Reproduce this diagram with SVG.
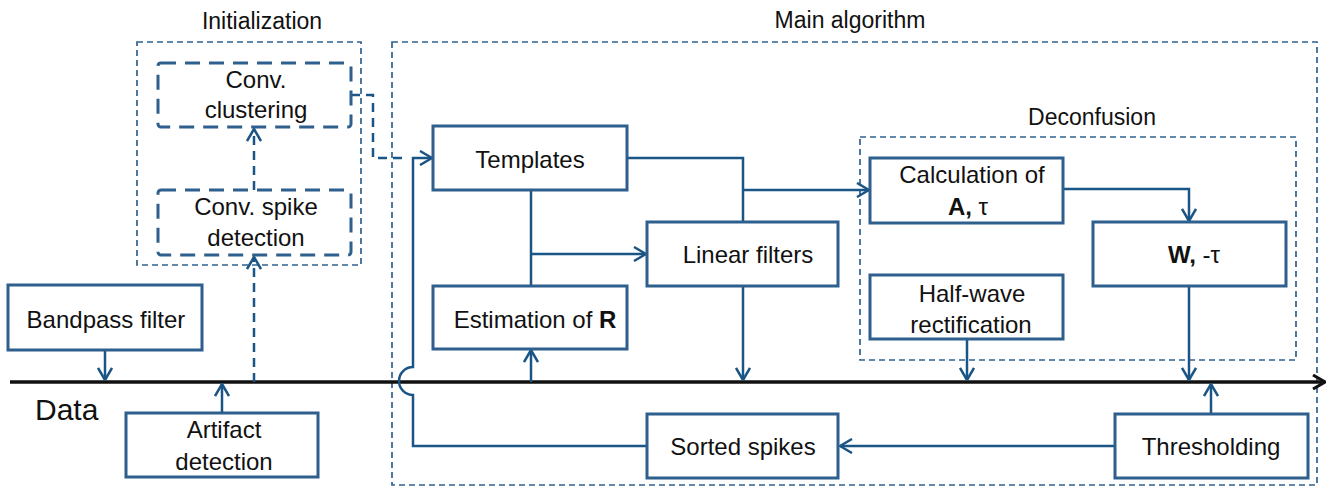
<svg xmlns="http://www.w3.org/2000/svg" width="1328" height="488" viewBox="0 0 1328 488">
<style>
text{font-family:"Liberation Sans",Arial,sans-serif;font-size:24px;fill:#111;text-anchor:middle}
.title{font-size:23px}
.box{fill:#fff;stroke:#2f5f8c;stroke-width:3}
.dbox{fill:#fff;stroke:#2f5f8c;stroke-width:3;stroke-dasharray:15 9}
.grp{fill:none;stroke:#2f6190;stroke-width:1.7;stroke-dasharray:6 4}
.ln{fill:none;stroke:#1b5586;stroke-width:2.5}
.dln{fill:none;stroke:#1b5586;stroke-width:2.5;stroke-dasharray:9 6}
.arr{marker-end:url(#a)}
</style>
<defs>
<marker id="a" viewBox="0 0 14 16" refX="13" refY="8" markerWidth="14" markerHeight="16" markerUnits="userSpaceOnUse" orient="auto">
<path d="M1,1 L13,8 L1,15" fill="none" stroke="#1b5586" stroke-width="2.5"/>
</marker>
<marker id="k" viewBox="0 0 14 16" refX="13" refY="8" markerWidth="14" markerHeight="16" markerUnits="userSpaceOnUse" orient="auto">
<path d="M1,1 L13,8 L1,15" fill="none" stroke="#111" stroke-width="3"/>
</marker>
</defs>
<g id="groups">
<rect class="grp" x="137" y="42" width="224" height="223"/>
<text class="title" x="262" y="29">Initialization</text>
<rect class="grp" x="392" y="42" width="925" height="443"/>
<text class="title" x="850" y="28">Main algorithm</text>
<rect class="grp" x="860" y="137" width="436" height="223"/>
<text class="title" x="1092" y="125">Deconfusion</text>
</g>
<g id="connectors">
<path d="M10,382 H1325" fill="none" stroke="#111" stroke-width="3.5" marker-end="url(#k)"/>
<path class="ln arr" d="M105,350 V380"/>
<path class="ln arr" d="M222,413 V384"/>
<path class="dln arr" d="M254,382 V257"/>
<path class="dln arr" d="M254,190 V129"/>
<path class="dln" d="M351,95 H373 V158 H405"/>
<path class="ln arr" d="M647,446 H413 V395 A14,14 0 0 1 413,367 V158 H432"/>
<path class="ln" d="M627,158 H743 V222"/>
<path class="ln arr" d="M743,190 H869"/>
<path class="ln" d="M531,190 V286"/>
<path class="ln arr" d="M531,254 H646"/>
<path class="ln arr" d="M531,382 V350"/>
<path class="ln arr" d="M743,286 V380"/>
<path class="ln arr" d="M1063,189 H1189 V221"/>
<path class="ln arr" d="M967,339 V380"/>
<path class="ln arr" d="M1189,286 V380"/>
<path class="ln arr" d="M1211,414 V384"/>
<path class="ln arr" d="M1115,446 H840"/>
</g>
<g id="conv-clustering"><rect class="dbox" x="158" y="63" width="193" height="64" rx="3"/><text x="256" y="88">Conv.</text><text x="256" y="118">clustering</text></g>
<g id="conv-spike-detection"><rect class="dbox" x="158" y="190" width="193" height="65" rx="3"/><text x="256" y="215">Conv. spike</text><text x="256" y="246">detection</text></g>
<g id="bandpass"><rect class="box" x="8" y="285" width="194" height="65"/><text x="106" y="328">Bandpass filter</text></g>
<text x="35" y="420" style="font-size:30px;text-anchor:start">Data</text>
<g id="artifact"><rect class="box" x="126" y="413" width="192" height="64"/><text x="224" y="438">Artifact</text><text x="224" y="470">detection</text></g>
<g id="templates"><rect class="box" x="433" y="126" width="194" height="64"/><text x="530" y="168">Templates</text></g>
<g id="linear-filters"><rect class="box" x="647" y="222" width="191" height="64"/><text x="748" y="263">Linear filters</text></g>
<g id="estimation"><rect class="box" x="433" y="286" width="194" height="63"/><text x="535" y="328">Estimation of <tspan font-weight="bold">R</tspan></text></g>
<g id="calc"><rect class="box" x="870" y="158" width="193" height="65"/><text x="972" y="183">Calculation of</text><text x="968" y="215"><tspan font-weight="bold">A,</tspan> τ</text></g>
<g id="w"><rect class="box" x="1093" y="222" width="193" height="64"/><text x="1194" y="263"><tspan font-weight="bold">W,</tspan>  -τ</text></g>
<g id="halfwave"><rect class="box" x="870" y="275" width="193" height="64"/><text x="972" y="302">Half-wave</text><text x="971" y="333">rectification</text></g>
<g id="sorted"><rect class="box" x="647" y="414" width="191" height="64"/><text x="743" y="455">Sorted spikes</text></g>
<g id="thresholding"><rect class="box" x="1115" y="414" width="193" height="64"/><text x="1211" y="455">Thresholding</text></g>
</svg>
